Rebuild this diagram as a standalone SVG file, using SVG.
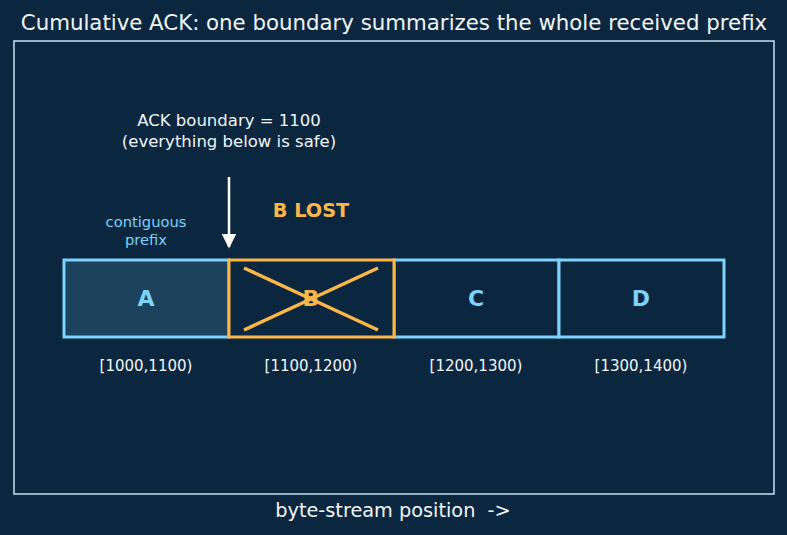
<svg xmlns="http://www.w3.org/2000/svg" width="787" height="535" viewBox="0 0 787 535">
<defs>
<marker id="ah" viewBox="0 0 10 10" refX="9" refY="5" markerWidth="6" markerHeight="6" orient="auto" markerUnits="strokeWidth">
<path d="M0,0 L10,5 L0,10 Z" fill="#ffffff"/>
</marker>
<style>
text{font-family:"DejaVu Sans","Liberation Sans",sans-serif;}
.seg{stroke:#7dd3fc;stroke-width:3;fill:#0b2740;}
.lbl{font-size:22px;font-weight:bold;fill:#7dd3fc;text-anchor:middle;}
.rng{font-size:15px;fill:#f0f6fa;text-anchor:middle;}
.or{stroke:#fbb64a;stroke-width:3.5;fill:none;}
</style>
</defs>
<rect width="787" height="535" fill="#0b2740"/>
<text x="394" y="30" font-size="21.3" fill="#f0f6fa" text-anchor="middle">Cumulative ACK: one boundary summarizes the whole received prefix</text>
<rect x="14" y="41" width="760" height="453" fill="none" stroke="#c8dff0" stroke-width="1.5"/>
<text x="393" y="517" font-size="19.3" fill="#f0f6fa" text-anchor="middle" xml:space="preserve" style="white-space:pre">byte-stream position  -&gt;</text>
<text x="229" y="126" font-size="16.5" fill="#f0f6fa" text-anchor="middle">ACK boundary = 1100</text>
<text x="229" y="147" font-size="16.5" fill="#f0f6fa" text-anchor="middle">(everything below is safe)</text>
<text x="146" y="227" font-size="14.7" fill="#7dd3fc" text-anchor="middle">contiguous</text>
<text x="146" y="245" font-size="14.7" fill="#7dd3fc" text-anchor="middle">prefix</text>
<text x="311" y="217" font-size="19.3" font-weight="bold" fill="#fbb64a" text-anchor="middle">B LOST</text>
<g id="nodeA">
<rect class="seg" x="64" y="260" width="165" height="77" style="fill:#1d425e"/>
<text class="lbl" x="146" y="306">A</text>
<text class="rng" x="146" y="371">[1000,1100)</text>
</g>
<g id="nodeC">
<rect class="seg" x="394" y="260" width="165" height="77"/>
<text class="lbl" x="476" y="306">C</text>
<text class="rng" x="476" y="371">[1200,1300)</text>
</g>
<g id="nodeD">
<rect class="seg" x="559" y="260" width="165" height="77"/>
<text class="lbl" x="641" y="306">D</text>
<text class="rng" x="641" y="371">[1300,1400)</text>
</g>
<g id="nodeB">
<rect x="229" y="260" width="165" height="77" fill="#0b2740" stroke="#fbb64a" stroke-width="3"/>
<text class="lbl" x="311" y="306" style="fill:#fbb64a">B</text>
<line class="or" x1="244" y1="268" x2="378" y2="330"/>
<line class="or" x1="244" y1="330" x2="378" y2="268"/>
<text class="rng" x="311" y="371">[1100,1200)</text>
</g>
<g id="connectors">
<line x1="229" y1="177" x2="229" y2="247" stroke="#ffffff" stroke-width="2.5" marker-end="url(#ah)"/>
</g>
</svg>
